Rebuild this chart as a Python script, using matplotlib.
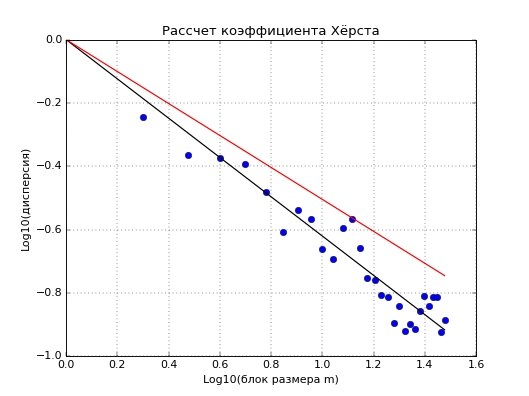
import numpy as np
import matplotlib
matplotlib.use('Agg')
import matplotlib.pyplot as plt

plt.style.use('classic')

# block sizes m = 2..30, log10 of block size
block_sizes = list(range(2, 31))
log_var = [-0.245, -0.364, -0.373, -0.393, -0.482, -0.607, -0.539, -0.566,
           -0.661, -0.693, -0.596, -0.566, -0.657, -0.751, -0.759, -0.805,
           -0.814, -0.894, -0.842, -0.920, -0.897, -0.912, -0.857, -0.809,
           -0.841, -0.812, -0.813, -0.924, -0.884]

# fitted line and reference line (end points)
fit_x = [0.0, np.log10(30)]
fit_y = [0.0, -0.916]
ref_x = [0.0, np.log10(30)]
ref_y = [0.0, -0.745]

log_m = np.log10(block_sizes)

dpi = 529 / 8.0
fig = plt.figure(figsize=(8, 396 / dpi), dpi=dpi)
ax = fig.add_axes([0.125, 0.1, 0.775, 0.8])

ax.plot(log_m, log_var, 'bo', markersize=7)
ax.plot(fit_x, fit_y, 'k-', linewidth=1.3)
ax.plot(ref_x, ref_y, 'r-', linewidth=1.3)

ax.set_xlim(0, 1.6)
ax.set_ylim(-1.0, 0.0)
ax.grid(True)
ax.set_title('Рассчет коэффициента Хёрста')
ax.set_xlabel('Log10(блок размера m)')
ax.set_ylabel('Log10(дисперсия)')

fig.savefig('out.png', dpi=dpi)
